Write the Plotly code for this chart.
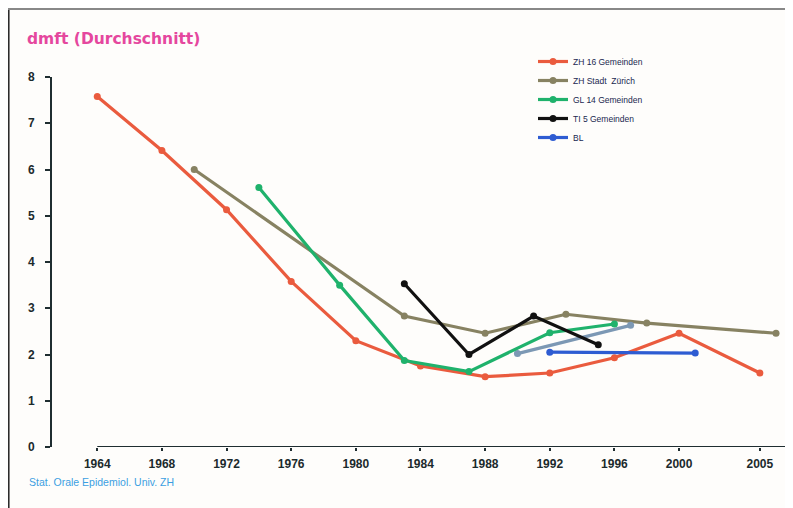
import plotly.graph_objects as go

# ---- data ----
zh16_years = [1964, 1968, 1972, 1976, 1980, 1984, 1988, 1992, 1996, 2000, 2005]
zh16_vals = [7.58, 6.41, 5.13, 3.58, 2.30, 1.75, 1.52, 1.60, 1.93, 2.46, 1.60]

zhstadt_years = [1970, 1983, 1988, 1993, 1998, 2006]
zhstadt_vals = [6.00, 2.83, 2.46, 2.87, 2.68, 2.46]

gl14_years = [1974, 1979, 1983, 1987, 1992, 1996]
gl14_vals = [5.61, 3.50, 1.87, 1.63, 2.47, 2.66]

ti5_years = [1983, 1987, 1991, 1995]
ti5_vals = [3.53, 2.00, 2.83, 2.21]

bl_years = [1992, 2001]
bl_vals = [2.05, 2.03]

extra_years = [1990, 1997]
extra_vals = [2.02, 2.63]

x_ticks = [1964, 1968, 1972, 1976, 1980, 1984, 1988, 1992, 1996, 2000, 2005]
y_ticks = [0, 1, 2, 3, 4, 5, 6, 7, 8]

X_MIN, X_MAX = 1961.2, 2007.05

# page offset (html body margin) = 8px; helpers map page pixels to paper fractions
PL, PW = 52, 741      # plot left (page px), plot width
PB, PH = 447, 370     # plot bottom (page px), plot height


def px(x):
    return (x - PL) / PW


def py(y):
    return (PB - y) / PH


fig = go.Figure()


def add(x, y, name, color, show=True):
    fig.add_trace(go.Scatter(
        x=x, y=y, name=name, mode="lines+markers",
        line=dict(color=color, width=3.2),
        marker=dict(color=color, size=7),
        showlegend=show, cliponaxis=False,
    ))


add(zh16_years, zh16_vals, "ZH 16 Gemeinden", "#EA5B3E")
add(zhstadt_years, zhstadt_vals, "ZH Stadt  Zürich", "#878262")
add(extra_years, extra_vals, "", "#7C98B4", show=False)
add(gl14_years, gl14_vals, "GL 14 Gemeinden", "#1FB26C")
add(ti5_years, ti5_vals, "TI 5 Gemeinden", "#111111")
add(bl_years, bl_vals, "BL", "#2E5CD2")

axis_col = "#1f2d30"

fig.update_layout(
    width=785, height=500,
    margin=dict(l=44, r=0, t=69, b=61),
    paper_bgcolor="#fefdfb",
    plot_bgcolor="#fefdfb",
    font=dict(family="Liberation Sans, Arial, sans-serif", color="#1b2a2c"),
    xaxis=dict(
        range=[X_MIN, X_MAX], tickvals=x_ticks, showgrid=False, zeroline=False,
        showline=False, ticks="outside", ticklen=3, tickwidth=2, tickcolor=axis_col,
        ticklabelstandoff=3,
        tickfont=dict(size=12, color="#1b2a2c", weight="bold"),
    ),
    yaxis=dict(
        range=[0, 8], tickvals=y_ticks, showgrid=False, zeroline=False,
        showline=True, linecolor=axis_col, linewidth=2,
        ticks="outside", ticklen=5, tickwidth=2, tickcolor=axis_col,
        ticklabelstandoff=8,
        tickfont=dict(size=12, color="#1b2a2c", weight="bold"),
    ),
    legend=dict(
        x=px(533), y=py(47), xanchor="left", yanchor="top",
        bgcolor="rgba(0,0,0,0)", font=dict(size=8.5, color="#1a2850"),
        itemwidth=30,
    ),
    showlegend=True,
)

# x-axis line starting at 1964
fig.add_shape(type="line", xref="x", yref="y", x0=1964, x1=X_MAX, y0=0, y1=0,
              line=dict(color=axis_col, width=2), layer="above")

# frame
fig.add_shape(type="line", xref="paper", yref="paper",
              x0=px(8.8), x1=px(8.8), y0=py(8), y1=py(508),
              line=dict(color="#222222", width=1.5))
fig.add_shape(type="line", xref="paper", yref="paper",
              x0=px(8), x1=1.0, y0=py(9), y1=py(9),
              line=dict(color="#888888", width=2))

fig.add_annotation(text="dmft (Durchschnitt)", xref="paper", yref="paper",
                   x=px(25), y=py(39), xanchor="left", yanchor="middle",
                   showarrow=False,
                   font=dict(family="DejaVu Sans, sans-serif", size=15.5, color="#E5479E", weight="bold"))
fig.add_annotation(text="Stat. Orale Epidemiol. Univ. ZH", xref="paper", yref="paper",
                   x=px(27), y=py(482), xanchor="left", yanchor="middle",
                   showarrow=False, font=dict(size=10.5, color="#3C9FE2"))

fig.write_html("out.html")
